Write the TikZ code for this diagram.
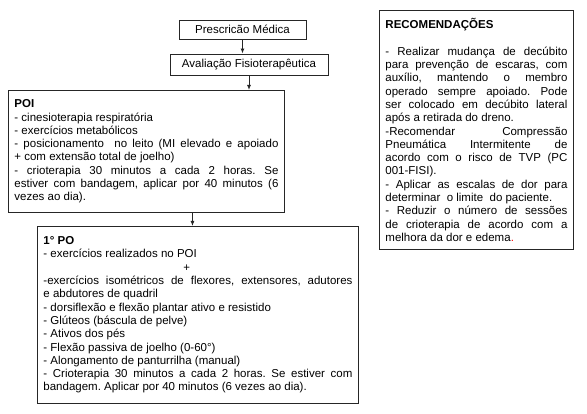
\documentclass[tikz,border=0pt]{standalone}
\usepackage{fontspec}
\setmainfont{Liberation Sans}
\usepackage{tikz}
\usetikzlibrary{arrows.meta}
\newcommand{\boxfont}{\fontsize{11.5}{13.3}\selectfont\frenchspacing\parindent=0pt\parskip=0pt}
\tikzstyle{flowstep}=[draw=black!85,line width=0.9pt,inner sep=0pt,font=\boxfont]
\tikzstyle{listbox}=[draw=black!85,line width=0.9pt,anchor=north west,inner xsep=6pt,inner ysep=4pt,align=justify,font=\boxfont]
\tikzstyle{flowarrow}=[-{Latex[length=5pt,width=4pt]},line width=0.9pt,draw=black!85]

\begin{document}
\begin{tikzpicture}[x=1pt,y=-1pt]
\useasboundingbox (0,0) rectangle (587,414);
\node [flowstep,minimum width=127pt,minimum height=19pt] (presc) at (242.5,29.5) {Prescricão Médica};
\node [flowstep,minimum width=158pt,minimum height=21pt] (aval) at (249,64.5) {Avaliação Fisioterapêutica};
\node [listbox,text width=264pt,minimum height=122pt] (poi) at (8,90) {\textbf{POI}\par
- cinesioterapia respiratória\par
- exercícios metabólicos\par
- posicionamento\ \ no leito (MI elevado e apoiado\linebreak
+ com extensão total de joelho)\par
- crioterapia 30 minutos a cada 2 horas. Se\linebreak
estiver com bandagem, aplicar por 40 minutos (6\linebreak
vezes ao dia).};
\node [listbox,text width=309pt,minimum height=177pt] (po) at (37,226) {\textbf{1° PO}\par
- exercícios realizados no POI\par
\hspace*{140pt}+\par
-exercícios isométricos de flexores, extensores, adutores\linebreak
e abdutores de quadril\par
- dorsiflexão e flexão plantar ativo e resistido\par
- Glúteos (báscula de pelve)\par
- Ativos dos pés\par
- Flexão passiva de joelho (0-60°)\par
- Alongamento de panturrilha (manual)\par
- Crioterapia 30 minutos a cada 2 horas. Se estiver com\linebreak
bandagem. Aplicar por 40 minutos (6 vezes ao dia).};
\node [listbox,text width=182pt,minimum height=239pt] (recom) at (379,10) {\textbf{RECOMENDAÇÕES}\par
\mbox{}\par
- Realizar mudança de decúbito\linebreak
para prevenção de escaras, com\linebreak
auxílio, mantendo o membro\linebreak
operado sempre apoiado. Pode\linebreak
ser colocado em decúbito lateral\linebreak
após a retirada do dreno.\par
-Recomendar Compressão\linebreak
Pneumática Intermitente de\linebreak
acordo com o risco de TVP (PC\linebreak
001-FISI).\par
- Aplicar as escalas de dor para\linebreak
determinar\ \ o limite\ \ do paciente.\par
- Reduzir o número de sessões\linebreak
de crioterapia de acordo com a\linebreak
melhora da dor e edema{\color{red}.}};
\draw [flowarrow] (presc.south) -- (presc.south |- aval.north);
\draw [flowarrow] (aval.south) -- (aval.south |- poi.north);
\draw [flowarrow] ([xshift=-5.5pt]po.north |- poi.south) -- ([xshift=-5.5pt]po.north);
\end{tikzpicture}
\end{document}
